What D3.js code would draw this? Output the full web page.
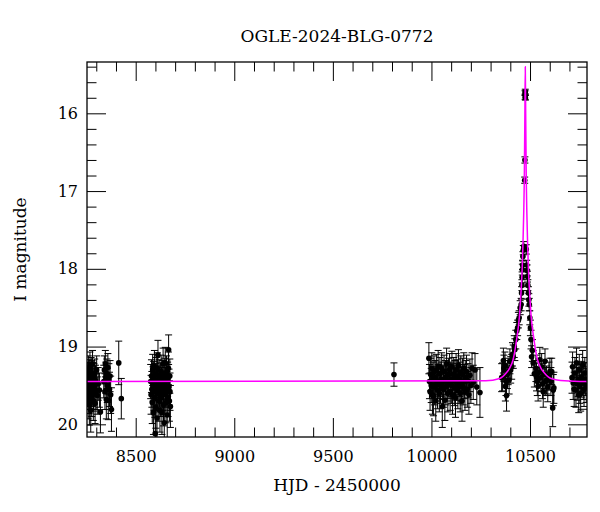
<!DOCTYPE html>
<html>
<head>
<meta charset="utf-8">
<script src="https://cdn.jsdelivr.net/npm/d3@7"></script>
<style>
  body { margin: 0; background: #fff; }
  text { font-family: "DejaVu Serif", serif; }
</style>
</head>
<body>
<div id="chart"></div>
<script>
// Photometry, [HJD - 2450000, I mag, error], one array per season
const season2018 = [
    [8256,19.55,0.22],[8257,19.42,0.20],[8259,19.68,0.25],[8260,19.30,0.18],[8261,19.48,0.21],
    [8263,19.62,0.24],[8264,19.36,0.19],[8265,19.75,0.26],[8267,19.45,0.20],[8268,19.25,0.18],
    [8270,19.58,0.23],[8271,19.40,0.20],[8272,19.82,0.28],[8274,19.33,0.19],[8275,19.50,0.22],
    [8277,19.66,0.24],[8278,19.38,0.20],[8280,19.55,0.22],[8281,19.22,0.17],[8283,19.47,0.21],
    [8285,19.70,0.25],[8286,19.60,0.23],[8288,19.42,0.20],[8290,19.52,0.22],[8292,19.35,0.19],
    [8294,19.73,0.26],[8296,19.44,0.20],[8299,19.58,0.23],[8302,19.30,0.18],[8305,19.63,0.24],
    [8310,19.48,0.21],[8316,19.56,0.22],[8321,19.84,0.27],
    [8338,19.45,0.21],[8341,19.30,0.18],[8344,19.58,0.23],[8346,19.22,0.17],[8349,19.40,0.20],
    [8351,19.68,0.25],[8354,19.35,0.19],[8356,19.50,0.22],[8359,19.27,0.18],[8361,19.69,0.25],
    [8364,19.42,0.20],[8367,19.55,0.22],[8370,19.38,0.20],[8373,19.62,0.24],[8377,19.81,0.28],
    [8414,19.21,0.28],[8427,19.67,0.26]
];
const season2019 = [
    [8576,19.45,0.22],[8578,19.62,0.25],[8580,19.38,0.21],[8582,19.55,0.23],[8584,19.72,0.27],
    [8586,19.30,0.20],[8588,19.48,0.22],[8590,19.85,0.28],[8591,19.40,0.21],[8593,19.58,0.24],
    [8595,19.25,0.20],[8597,19.66,0.25],[8599,20.12,0.30],[8600,19.44,0.22],[8602,19.78,0.27],
    [8604,19.35,0.21],[8606,19.52,0.23],[8608,19.92,0.29],[8610,19.28,0.20],[8612,19.60,0.24],
    [8613,19.11,0.19],[8615,19.47,0.22],[8617,19.70,0.26],[8619,19.38,0.21],[8621,19.55,0.23],
    [8623,19.82,0.28],[8625,19.43,0.22],[8627,19.65,0.25],[8629,19.32,0.21],[8631,19.50,0.23],
    [8633,19.85,0.28],[8635,19.40,0.22],[8637,19.58,0.24],[8639,19.22,0.20],[8641,19.75,0.27],
    [8643,19.45,0.22],[8645,19.98,0.30],[8647,19.36,0.21],[8649,19.62,0.25],[8650,19.21,0.20],
    [8652,19.50,0.23],[8654,19.72,0.26],[8656,19.33,0.21],[8658,19.55,0.23],[8660,19.88,0.29],
    [8662,19.42,0.22],[8664,19.65,0.25],[8666,19.28,0.21],[8667,19.04,0.19],[8669,19.52,0.23],
    [8671,19.70,0.26],[8673,19.38,0.22],[8674,19.58,0.24],[8676,19.77,0.27]
];
const season2022 = [
    [9810,19.36,0.15]
];
const season2023 = [
    [9987,19.15,0.20],[9990,19.45,0.22],[9993,19.58,0.24],[9996,19.36,0.21],[9999,19.50,0.22],
    [10002,19.28,0.20],[10005,19.62,0.25],[10008,19.42,0.22],[10010,19.64,0.25],[10013,19.33,0.21],
    [10016,19.52,0.23],[10019,19.40,0.22],[10022,19.70,0.26],[10025,19.30,0.20],[10028,19.48,0.22],
    [10031,19.56,0.24],[10034,19.25,0.20],[10037,19.45,0.22],[10040,19.60,0.24],[10043,19.35,0.21],
    [10046,19.50,0.23],[10049,19.42,0.22],[10052,19.28,0.20],[10055,19.77,0.27],[10058,19.46,0.22],
    [10061,19.55,0.23],[10064,19.32,0.21],[10068,19.69,0.26],[10071,19.40,0.22],[10074,19.52,0.23],
    [10077,19.22,0.20],[10080,19.48,0.22],[10083,19.60,0.24],[10086,19.36,0.21],[10089,19.45,0.22],
    [10092,19.30,0.21],[10095,19.58,0.24],[10098,19.42,0.22],[10101,19.50,0.23],[10104,19.26,0.20],
    [10107,19.62,0.25],[10110,19.44,0.22],[10113,19.35,0.21],[10116,19.53,0.23],[10119,19.40,0.22],
    [10122,19.66,0.25],[10125,19.30,0.21],[10128,19.47,0.22],[10131,19.38,0.21],[10134,19.56,0.24],
    [10137,19.24,0.20],[10140,19.50,0.23],[10143,19.42,0.22],[10146,19.60,0.24],[10149,19.33,0.21],
    [10152,19.48,0.22],[10155,19.70,0.26],[10158,19.36,0.21],[10161,19.52,0.23],[10164,19.28,0.20],
    [10167,19.45,0.22],[10170,19.58,0.24],[10174,19.40,0.22],[10178,19.32,0.21],[10182,19.55,0.23],
    [10186,19.44,0.22],[10190,19.62,0.25],[10195,19.37,0.21],[10200,19.50,0.23],[10206,19.28,0.20],
    [10212,19.46,0.22],[10221,19.30,0.21],[10230,19.52,0.23],[10246,19.59,0.32]
];
const season2024 = [
    [10356,19.40,0.18],[10361,19.39,0.18],[10365,19.18,0.16],[10368,19.28,0.17],[10373,19.24,0.17],
    [10375,19.51,0.19],[10378,19.45,0.18],[10381,19.63,0.20],[10385,19.36,0.18],[10389,19.32,0.17],
    [10394,19.43,0.18],[10398,19.19,0.16],[10402,19.30,0.17],[10407,19.26,0.16],[10411,19.10,0.15],
    [10415,19.13,0.15],[10420,19.00,0.14],[10423,19.04,0.14],
    [10428,18.91,0.12],[10433,18.80,0.11],[10437,18.76,0.10],[10441,18.66,0.10],[10445,18.63,0.09],
    [10450,18.50,0.09],[10455,18.46,0.08],[10457,18.31,0.08],[10459,18.21,0.07],[10460,18.11,0.07],
    [10461,18.01,0.07],[10462,17.95,0.06],[10464,17.84,0.06],[10466,17.76,0.06],[10468,17.71,0.06],
    [10473,16.86,0.04],[10474,16.60,0.04],[10475,15.74,0.03],[10475.5,15.79,0.03],[10476,15.72,0.03],
    [10476.5,15.80,0.03],
    [10481,17.75,0.06],[10483,17.95,0.06],[10485,18.02,0.07],[10487,18.10,0.07],[10489,18.21,0.07],
    [10492,18.31,0.08],[10494,18.40,0.08],[10496,18.46,0.08],[10499,18.63,0.09],[10502,18.76,0.10],
    [10505,18.91,0.12],[10508,19.13,0.14],[10512,19.05,0.14],
    [10516,19.21,0.16],[10522,19.35,0.17],[10530,19.28,0.17],[10533,19.39,0.18],[10537,19.45,0.18],
    [10541,19.51,0.19],[10545,19.33,0.17],[10550,19.17,0.16],[10555,19.40,0.18],[10559,19.26,0.17],
    [10563,19.48,0.19],[10567,19.58,0.20],[10572,19.36,0.18],[10576,19.19,0.16],[10580,19.45,0.18],
    [10584,19.43,0.18],[10590,19.52,0.19],[10596,19.38,0.18],[10601,19.32,0.17],[10606,19.45,0.18],
    [10610,19.32,0.17],[10615,19.79,0.24],[10618,19.56,0.20],[10621,19.53,0.20]
];
const season2025 = [
    [10713,19.40,0.20],[10716,19.26,0.19],[10719,19.47,0.21],[10724,19.55,0.22],[10728,19.34,0.20],
    [10733,19.56,0.22],[10736,19.21,0.19],[10740,19.48,0.21],[10744,19.43,0.21],[10747,19.62,0.23],
    [10750,19.30,0.20],[10753,19.51,0.22],[10757,19.60,0.23],[10760,19.44,0.21],[10762,19.39,0.20],
    [10767,19.24,0.19],[10770,19.47,0.21],[10774,19.55,0.22],[10778,19.34,0.20],[10782,19.42,0.21],
    [10785,19.50,0.22]
];

// Model light curve
const modelHjd = [8253, 10276, 10346, 10379, 10396, 10414, 10432, 10446, 10455, 10460, 10464, 10468, 10471, 10474, 10476,
                  10478, 10481, 10484, 10488, 10492, 10497, 10506, 10520, 10538, 10556, 10573, 10606, 10676, 10789];
const modelMag = [19.45, 19.44, 19.41, 19.34, 19.28, 19.17, 18.91, 18.62, 18.27, 18.01, 17.70, 17.29, 16.86, 16.00, 15.40,
                  16.00, 16.86, 17.29, 17.70, 18.01, 18.27, 18.62, 18.91, 19.17, 19.28, 19.34, 19.41, 19.44, 19.45];

const xTicks = [8500, 9000, 9500, 10000, 10500];
const yTicks = [16, 17, 18, 19, 20];
const xMinor = d3.range(8300, 10790, 100).filter(d => !xTicks.includes(d));
const yMinor = d3.range(15.4, 20.1, 0.2).map(d => +d.toFixed(1)).filter(d => !yTicks.includes(d));

const obs = [].concat(season2018, season2019, season2022, season2023, season2024, season2025);

const margin = {top: 62, right: 13, bottom: 75, left: 87};
const width = 600 - margin.left - margin.right;
const height = 512 - margin.top - margin.bottom;

const x = d3.scaleLinear().domain([8253, 10789]).range([0, width]);
const y = d3.scaleLinear().domain([15.34, 20.163]).range([0, height]);

const svg = d3.select("#chart").append("svg")
    .attr("width", 600)
    .attr("height", 512);

const g = svg.append("g")
    .attr("transform", `translate(${margin.left},${margin.top})`);

svg.append("defs").append("clipPath").attr("id", "plotclip")
  .append("rect").attr("width", width).attr("height", height);

// ticks on all four sides, pointing inwards
function styleAxis(sel) {
    sel.select(".domain").remove();
    sel.selectAll("line").attr("stroke", "#000").attr("stroke-width", 1);
    sel.selectAll("text").attr("font-family", "DejaVu Serif, serif").attr("font-size", 16).attr("fill", "#000");
}

g.append("g").attr("transform", `translate(0,${height})`)
    .call(d3.axisBottom(x).tickValues(xTicks).tickSize(-19).tickPadding(13.6).tickFormat(d3.format("d")))
    .call(styleAxis);
g.append("g").attr("transform", `translate(0,${height})`)
    .call(d3.axisBottom(x).tickValues(xMinor).tickSize(-9.5).tickFormat(""))
    .call(styleAxis);
g.append("g")
    .call(d3.axisTop(x).tickValues(xTicks).tickSize(-19).tickFormat(""))
    .call(styleAxis);
g.append("g")
    .call(d3.axisTop(x).tickValues(xMinor).tickSize(-9.5).tickFormat(""))
    .call(styleAxis);

g.append("g")
    .call(d3.axisLeft(y).tickValues(yTicks).tickSize(-19).tickPadding(9).tickFormat(d3.format("d")))
    .call(styleAxis);
g.append("g")
    .call(d3.axisLeft(y).tickValues(yMinor).tickSize(-9.5).tickFormat(""))
    .call(styleAxis);
g.append("g").attr("transform", `translate(${width},0)`)
    .call(d3.axisRight(y).tickValues(yTicks).tickSize(-19).tickFormat(""))
    .call(styleAxis);
g.append("g").attr("transform", `translate(${width},0)`)
    .call(d3.axisRight(y).tickValues(yMinor).tickSize(-9.5).tickFormat(""))
    .call(styleAxis);

const plot = g.append("g").attr("clip-path", "url(#plotclip)");

// error bars
const bars = plot.append("g").attr("stroke", "#000").attr("stroke-width", 1);
bars.selectAll(".eb")
    .data(obs)
    .join("line")
    .attr("x1", d => x(d[0]))
    .attr("x2", d => x(d[0]))
    .attr("y1", d => y(d[1] - d[2]))
    .attr("y2", d => y(d[1] + d[2]));
bars.selectAll(".capTop")
    .data(obs)
    .join("line")
    .attr("x1", d => x(d[0]) - 3.5)
    .attr("x2", d => x(d[0]) + 3.5)
    .attr("y1", d => y(d[1] - d[2]))
    .attr("y2", d => y(d[1] - d[2]));
bars.selectAll(".capBot")
    .data(obs)
    .join("line")
    .attr("x1", d => x(d[0]) - 3.5)
    .attr("x2", d => x(d[0]) + 3.5)
    .attr("y1", d => y(d[1] + d[2]))
    .attr("y2", d => y(d[1] + d[2]));

plot.append("g").selectAll("circle")
    .data(obs)
    .join("circle")
    .attr("cx", d => x(d[0]))
    .attr("cy", d => y(d[1]))
    .attr("r", 2.8)
    .attr("fill", "#000");

// model
const line = d3.line()
    .x((d, i) => x(modelHjd[i]))
    .y(d => y(d))
    .curve(d3.curveMonotoneX);

plot.append("path")
    .datum(modelMag)
    .attr("fill", "none")
    .attr("stroke", "#ff00ff")
    .attr("stroke-width", 1.5)
    .attr("d", line);

// frame
g.append("rect")
    .attr("width", width)
    .attr("height", height)
    .attr("fill", "none")
    .attr("stroke", "#000")
    .attr("stroke-width", 1.3);

svg.append("text")
    .attr("x", margin.left + width / 2)
    .attr("y", 42)
    .attr("text-anchor", "middle")
    .attr("font-size", 17)
    .text("OGLE-2024-BLG-0772");

svg.append("text")
    .attr("x", margin.left + width / 2)
    .attr("y", 491)
    .attr("text-anchor", "middle")
    .attr("font-size", 17)
    .text("HJD - 2450000");

svg.append("text")
    .attr("transform", `translate(25.7,${margin.top + height / 2}) rotate(-90)`)
    .attr("text-anchor", "middle")
    .attr("font-size", 17)
    .text("I magnitude");
</script>
</body>
</html>
